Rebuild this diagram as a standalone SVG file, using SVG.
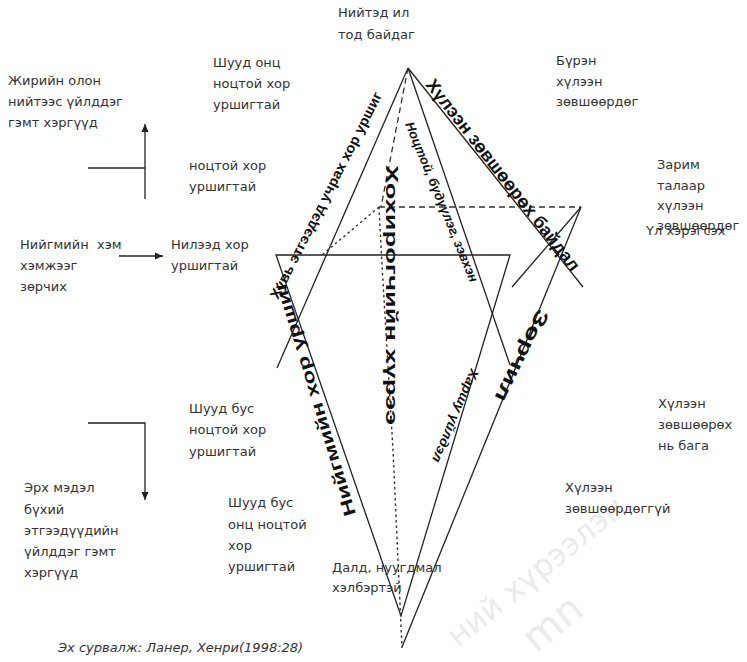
<svg xmlns="http://www.w3.org/2000/svg" width="747" height="662" viewBox="0 0 747 662">
<defs>
<marker id="ah" viewBox="0 0 10 10" refX="10" refY="5" markerWidth="9" markerHeight="8" orient="auto" markerUnits="userSpaceOnUse">
<path d="M0,0.5 L10,5 L0,9.5 z" fill="#222"/>
</marker>
<style>
.lbl{font-family:"DejaVu Sans","Liberation Sans",sans-serif;font-size:13px;fill:#333;white-space:pre}
.src{font-family:"DejaVu Sans","Liberation Sans",sans-serif;font-size:13px;font-style:italic;fill:#333}
.ln{stroke:#222;stroke-width:1.3;fill:none}
.dash{stroke:#333;stroke-width:1.3;fill:none;stroke-dasharray:6 4}
.dot{stroke:#333;stroke-width:1.4;fill:none;stroke-dasharray:2.5 3}
.rb{font-family:"Liberation Sans",sans-serif;font-weight:bold;fill:#111}
.ri{font-family:"Liberation Sans",sans-serif;font-style:italic;font-weight:bold;fill:#111}
.wm{font-family:"DejaVu Sans",sans-serif;fill:#ebebeb}
</style>
</defs>
<rect width="747" height="662" fill="#fff"/>

<g id="watermark">
<text class="wm" transform="translate(458,648) rotate(-39)" font-size="31">ний хүрээлэн</text>
<text class="wm" transform="translate(536,654) rotate(-39)" font-size="40">mn</text>
</g>

<g id="connectors">
<path class="ln" d="M408,68 L277,368"/>
<path class="ln" d="M408,68 L510,365"/>
<path class="ln" d="M408,68 L583,287"/>
<path class="ln" d="M276,255 L510,255 L401,616 Z"/>
<path class="ln" d="M581,207 L402,647"/>
<path class="ln" d="M581,207 L512,287"/>
<path class="dash" d="M379,207 L581,207"/>
<path class="dash" d="M408,68 L381,207"/>
<path class="dot" d="M379,207 L322,255"/>
<path class="dot" d="M379,207 L382,265 L393,450 L402,648"/>
<path class="ln" d="M88,168 L145,168"/>
<path class="ln" d="M145,199 L145,124" marker-end="url(#ah)"/>
<path class="ln" d="M119,256 L163,256" marker-end="url(#ah)"/>
<path class="ln" d="M88,423 L145,423 L145,500" marker-end="url(#ah)"/>
</g>

<g id="axis-labels">
<text class="rb" transform="translate(425,85) rotate(52)" font-size="18" textLength="238" lengthAdjust="spacingAndGlyphs">Хүлээн зөвшөөрөх байдал</text>
<text class="ri" transform="translate(405,124) rotate(67.7)" font-size="13" textLength="172" lengthAdjust="spacingAndGlyphs">Ноцтой, бүдүүлэг, зэвхэн</text>
<text class="rb" transform="translate(278,300) rotate(-63)" font-size="14" textLength="230" lengthAdjust="spacingAndGlyphs">Хувь этгээдэд учрах хор уршиг</text>
<text class="rb" transform="translate(356,514) rotate(-107)" font-size="17" textLength="245" lengthAdjust="spacingAndGlyphs">Нийгмийн хор уршиг</text>
<text class="rb" transform="translate(386,165) rotate(90)" font-size="16" textLength="260" lengthAdjust="spacingAndGlyphs">Хохирогчийн хүрээ</text>
<text class="ri" transform="translate(471,368) rotate(113)" font-size="13" textLength="100" lengthAdjust="spacingAndGlyphs">Харшу үйлдэл</text>
<text class="rb" transform="translate(538,308) rotate(116)" font-size="19" textLength="100" lengthAdjust="spacingAndGlyphs">Зөрчил</text>
</g>

<g id="n-top"><text class="lbl" x="338" y="17">Нийтэд ил<tspan x="338" y="39">тод байдаг</tspan></text></g>
<g id="n-shuud-onc"><text class="lbl" x="213" y="67">Шууд онц<tspan x="213" y="88">ноцтой хор</tspan><tspan x="213" y="109">уршигтай</tspan></text></g>
<g id="n-buren"><text class="lbl" x="556" y="65">Бүрэн<tspan x="556" y="85.5">хүлээн</tspan><tspan x="556" y="106">зөвшөөрдөг</tspan></text></g>
<g id="n-jiriin"><text class="lbl" x="8" y="85">Жирийн олон<tspan x="8" y="106">нийтээс үйлддэг</tspan><tspan x="8" y="127">гэмт хэргүүд</tspan></text></g>
<g id="n-noctoi"><text class="lbl" x="189" y="169.5">ноцтой хор<tspan x="189" y="190.5">уршигтай</tspan></text></g>
<g id="n-zarim"><text class="lbl" x="657" y="169">Зарим<tspan x="657" y="189.5">талаар</tspan><tspan x="657" y="210">хүлээн</tspan><tspan x="657" y="230">зөвшөөрдөг</tspan></text></g>
<g id="n-ul"><text class="lbl" x="646" y="234.5">Үл хэрэгсэх</text></g>
<g id="n-niigmiin"><text class="lbl" x="20" y="249">Нийгмийн  хэм<tspan x="20" y="269.5">хэмжээг</tspan><tspan x="20" y="290.5">зөрчих</tspan></text></g>
<g id="n-nileed"><text class="lbl" x="171" y="249">Нилээд хор<tspan x="171" y="269.5">уршигтай</tspan></text></g>
<g id="n-shuud-bus"><text class="lbl" x="189" y="413">Шууд бус<tspan x="189" y="434">ноцтой хор</tspan><tspan x="189" y="455.5">уршигтай</tspan></text></g>
<g id="n-erh"><text class="lbl" x="24" y="492">Эрх мэдэл<tspan x="24" y="513.5">бүхий</tspan><tspan x="24" y="535">этгээдүүдийн</tspan><tspan x="24" y="556">үйлддэг гэмт</tspan><tspan x="24" y="577">хэргүүд</tspan></text></g>
<g id="n-shuud-bus-onc"><text class="lbl" x="228" y="507">Шууд бус<tspan x="228" y="528.5">онц ноцтой</tspan><tspan x="228" y="550">хор</tspan><tspan x="228" y="571">уршигтай</tspan></text></g>
<g id="n-huleen-baga"><text class="lbl" x="658" y="408">Хүлээн<tspan x="658" y="429">зөвшөөрөх</tspan><tspan x="658" y="450">нь бага</tspan></text></g>
<g id="n-huleen-ugui"><text class="lbl" x="565" y="492">Хүлээн<tspan x="565" y="512.5">зөвшөөрдөггүй</tspan></text></g>
<g id="n-dald"><text class="lbl" x="332" y="572">Далд, нуугдмал<tspan x="332" y="592">хэлбэртэй</tspan></text></g>
<g id="n-source"><text class="src" x="58" y="652">Эх сурвалж: Ланер, Хенри(1998:28)</text></g>
</svg>
